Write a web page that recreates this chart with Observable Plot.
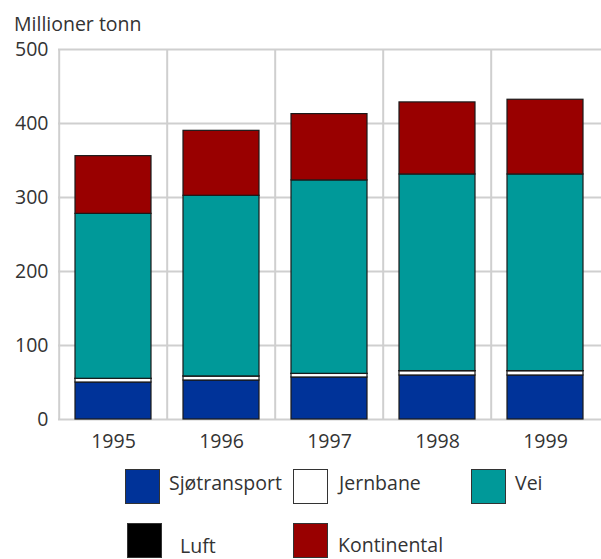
<!DOCTYPE html>
<html>
<head>
<meta charset="utf-8">
<script src="https://cdn.jsdelivr.net/npm/d3@7"></script>
<script src="https://cdn.jsdelivr.net/npm/@observablehq/plot@0.6"></script>
<style>
  html, body { margin: 0; padding: 0; background: #fff; }
  body { width: 601px; height: 559px; overflow: hidden; font-family: "Open Sans", sans-serif; color: #333; }
  #wrap { position: relative; width: 601px; height: 559px; }
  #ylabel { position: absolute; left: 14px; top: 11px; font-size: 19.5px; line-height: 26px; color: #333; }
  #chart { position: absolute; left: 0; top: 0; }
  .sw { position: absolute; width: 33px; height: 33px; border: 1px solid #333; }
  .lt { position: absolute; font-size: 19.5px; line-height: 20px; color: #333; white-space: nowrap; }
</style>
</head>
<body>
<div id="wrap">
  <div id="chart"></div>
  <div id="ylabel">Millioner tonn</div>
</div>
<script>
// ---- Data ----
const years = ["1995", "1996", "1997", "1998", "1999"];
const seriesNames = ["Sjøtransport", "Jernbane", "Luft", "Vei", "Kontinental"];
const sjotransport = [50, 52.7, 56.8, 59.5, 59.5];
const jernbane     = [4.9, 5.4, 4.8, 5.8, 5.8];
const luft         = [0.1, 0.1, 0.1, 0.1, 0.1];
const vei          = [222.9, 244.1, 261.4, 265.7, 265.7];
const kontinental  = [78, 87.8, 89.6, 97.4, 101];
const yTicks = [0, 100, 200, 300, 400, 500];
const colors = ["#003399", "#ffffff", "#000000", "#009999", "#990000"];

const seriesValues = [sjotransport, jernbane, luft, vei, kontinental];
const rows = [];
years.forEach((y, i) => {
  seriesNames.forEach((s, j) => rows.push({year: y, series: s, value: seriesValues[j][i]}));
});

const W = 601, H = 460;
const mL = 58, mR = 0, mT = 49, mB = 41;
const bandW = (W - mL - mR) / years.length;

const plot = Plot.plot({
  width: W,
  height: H,
  marginLeft: mL,
  marginRight: mR,
  marginTop: mT,
  marginBottom: mB,
  style: {fontFamily: "Open Sans, sans-serif", fontSize: "19.5px", color: "#333", background: "#fff"},
  x: {domain: years, paddingInner: 0.295, paddingOuter: 0.1475, label: null},
  y: {domain: [0, 500], label: null},
  color: {domain: seriesNames, range: colors},
  marks: [
    Plot.ruleY(yTicks, {y: d => d, stroke: "#cfcfcf", strokeWidth: 2}),
    Plot.ruleX(years, {x: d => d, dx: -bandW / 2, y1: 0, y2: 500, stroke: "#cfcfcf", strokeWidth: 2}),
    Plot.barY(rows, Plot.stackY({x: "year", y: "value", fill: "series", stroke: "#1a1a1a", strokeWidth: 1.2})),
    Plot.axisY({ticks: yTicks, tickSize: 0, tickPadding: 10, fill: "#333", fontSize: 19.5}),
    Plot.axisX({tickSize: 0, tickPadding: 15, fill: "#333", fontSize: 19.5})
  ]
});
document.getElementById("chart").appendChild(plot);

// ---- Legend (HTML) ----
const legendPos = [
  {sx: 125, sy: 469, tx: 169, ty: 473},
  {sx: 293, sy: 469, tx: 339, ty: 473},
  {sx: 127, sy: 523, tx: 180, ty: 536},
  {sx: 471, sy: 469, tx: 515, ty: 473},
  {sx: 293, sy: 523, tx: 338, ty: 535}
];
const wrap = document.getElementById("wrap");
seriesNames.forEach((name, i) => {
  const p = legendPos[i];
  const sw = document.createElement("div");
  sw.className = "sw";
  sw.style.left = p.sx + "px";
  sw.style.top = p.sy + "px";
  sw.style.background = colors[i];
  wrap.appendChild(sw);
  const t = document.createElement("div");
  t.className = "lt";
  t.style.left = p.tx + "px";
  t.style.top = p.ty + "px";
  t.textContent = name;
  wrap.appendChild(t);
});
</script>
</body>
</html>
